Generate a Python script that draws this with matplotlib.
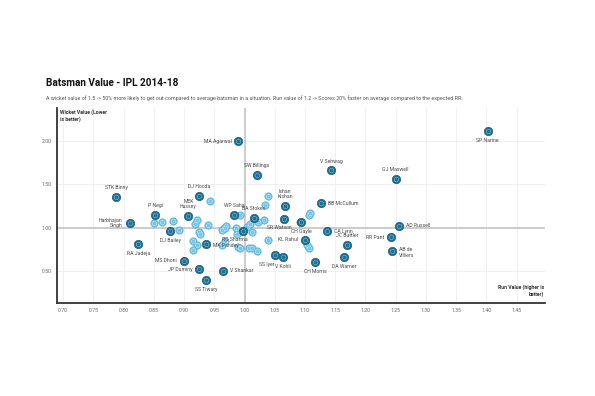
import matplotlib
matplotlib.use('Agg')
import matplotlib.pyplot as plt
import numpy as np

plt.rcParams['font.family'] = ['Roboto', 'DejaVu Sans']

# Batsmen with names (dark points)
names = ['MA Agarwal', 'STK Binny', 'DJ Hooda', 'P Negi', 'MEK\nHussey', 'Harbhajan\nSingh',
         'DJ Bailey', 'RA Jadeja', 'MK Pandey', 'MS Dhoni', 'JP Duminy', 'SS Tiwary',
         'V Shankar', 'SW Billings', 'V Sehwag', 'Ishan\nKishan', 'BB McCullum', 'WP Saha',
         'BA Stokes', 'SR Watson', 'CH Gayle', 'RG Sharma', 'KL Rahul', 'CA Lynn',
         'JC Buttler', 'SS Iyer', 'V Kohli', 'CH Morris', 'DA Warner', 'SP Narine',
         'GJ Maxwell', 'AD Russell', 'RR Pant', 'AB de\nVilliers']
run_val = [0.990, 0.788, 0.925, 0.852, 0.907, 0.810,
           0.877, 0.824, 0.936, 0.900, 0.925, 0.937,
           0.965, 1.020, 1.143, 1.067, 1.127, 0.983,
           1.015, 1.065, 1.094, 0.997, 1.100, 1.137,
           1.169, 1.050, 1.063, 1.117, 1.165, 1.402,
           1.250, 1.256, 1.242, 1.244]
wkt_val = [2.00, 1.35, 1.36, 1.15, 1.13, 1.05,
           0.96, 0.81, 0.81, 0.62, 0.52, 0.39,
           0.50, 1.61, 1.66, 1.25, 1.28, 1.15,
           1.11, 1.10, 1.06, 0.96, 0.86, 0.96,
           0.80, 0.68, 0.66, 0.60, 0.66, 2.11,
           1.56, 1.02, 0.89, 0.73]

# other batsmen (light points)
other_run = [0.943, 0.850, 0.863, 0.881, 0.891, 0.921, 0.918, 0.924, 0.927, 0.939,
             0.915, 0.921, 0.914, 0.966, 0.970, 0.963, 0.968, 0.963, 0.986, 0.987,
             0.992, 1.004, 0.989, 0.993, 1.007, 1.012, 1.039, 1.034, 1.032, 1.023,
             1.009, 1.013, 1.038, 1.021, 1.106, 1.109, 1.091, 1.104, 1.107, 0.968]
other_wkt = [1.31, 1.05, 1.06, 1.08, 0.97, 1.09, 1.04, 0.95, 0.93, 1.03,
             0.85, 0.80, 0.74, 0.99, 1.02, 0.97, 0.84, 0.80, 0.99, 0.93,
             1.14, 1.01, 0.78, 0.77, 0.77, 0.76, 1.36, 1.26, 1.09, 1.06,
             1.04, 0.95, 0.86, 0.73, 1.14, 1.17, 1.06, 0.80, 0.76, 1.00]

# label placement: (dx, dy) in points, ha, va
place = {
    'MA Agarwal': (-5, 0, 'right', 'center'),
    'Harbhajan\nSingh': (-5, 0, 'right', 'center'),
    'MK Pandey': (5, -1, 'left', 'center'),
    'MS Dhoni': (-5, 0, 'right', 'center'),
    'JP Duminy': (-5, 0, 'right', 'center'),
    'V Shankar': (5, 0, 'left', 'center'),
    'BB McCullum': (5, 0, 'left', 'center'),
    'KL Rahul': (-5, 0, 'right', 'center'),
    'CA Lynn': (5, 0, 'left', 'center'),
    'AD Russell': (5, 0, 'left', 'center'),
    'RR Pant': (-5, 0, 'right', 'center'),
    'AB de\nVilliers': (5, -1, 'left', 'center'),
    'DJ Bailey': (0, -5, 'center', 'top'),
    'RA Jadeja': (0, -5, 'center', 'top'),
    'SS Tiwary': (0, -5, 'center', 'top'),
    'SR Watson': (-3, -4, 'center', 'top'),
    'CH Gayle': (0, -5, 'center', 'top'),
    'RG Sharma': (-6, -4, 'center', 'top'),
    'SS Iyer': (-6, -5, 'center', 'top'),
    'V Kohli': (0, -5, 'center', 'top'),
    'CH Morris': (0, -5, 'center', 'top'),
    'DA Warner': (0, -5, 'center', 'top'),
    'SP Narine': (0, -5, 'center', 'top'),
}

dark = '#1f7194'
dark_edge = '#135a78'
light = '#78c5e4'
light_edge = '#58b0d6'

fig = plt.figure(figsize=(5.95, 3.96), dpi=100)
ax = fig.add_axes([0.096, 0.235, 0.82, 0.492])

ax.axvline(1.0, color='#c4c4c4', lw=1.2, zorder=1)
ax.axhline(1.0, color='#c4c4c4', lw=1.2, zorder=1)

ax.scatter(other_run, other_wkt, s=28, color=light, edgecolors=light_edge, linewidths=0.5, zorder=2)
ax.scatter(other_run, other_wkt, s=9, color=light, edgecolors='#d8eff8', linewidths=0.3, zorder=2)
ax.scatter(run_val, wkt_val, s=36, color=dark, edgecolors=dark_edge, linewidths=0.5, zorder=3)
ax.scatter(run_val, wkt_val, s=10, color=dark, edgecolors='#a9d3e4', linewidths=0.3, zorder=3)

for n, x, y in zip(names, run_val, wkt_val):
    dx, dy, ha, va = place.get(n, (0, 5, 'center', 'bottom'))
    ax.annotate(n, (x, y), xytext=(dx, dy), textcoords='offset points',
                ha=ha, va=va, fontsize=3.7, color='#4a4a4a', linespacing=1.1, zorder=4)

ax.set_xlim(0.69, 1.497)
ax.set_ylim(0.13, 2.38)
ax.set_xticks(np.arange(0.70, 1.451, 0.05))
ax.set_xticklabels(['%.2f' % t for t in np.arange(0.70, 1.451, 0.05)])
ax.set_yticks([0.5, 1.0, 1.5, 2.0])
ax.set_yticklabels(['0.50', '1.00', '1.50', '2.00'])
ax.tick_params(length=0, labelsize=3.7, labelcolor='#666666', pad=4)
ax.grid(True, color='#eeeeee', lw=0.6, zorder=0)
ax.set_axisbelow(True)

for s in ['top', 'right']:
    ax.spines[s].set_visible(False)
ax.spines['left'].set_linewidth(1.3)
ax.spines['bottom'].set_linewidth(1.3)
ax.spines['left'].set_color('#333333')
ax.spines['bottom'].set_color('#333333')

ax.text(0.006, 0.995, 'Wicket Value (Lower\nis better)', transform=ax.transAxes,
        ha='left', va='top', fontsize=3.7, fontweight='bold', color='#333333', linespacing=1.3)
ax.text(0.998, 0.03, 'Run Value (higher is\nbetter)', transform=ax.transAxes,
        ha='right', va='bottom', fontsize=3.7, fontweight='bold', color='#333333', linespacing=1.3)

fig.text(0.077, 0.782, 'Batsman Value - IPL 2014-18', fontsize=7.2, fontweight='bold', color='#111111')
fig.text(0.077, 0.748, 'A wicket value of 1.5 -> 50% more likely to get out compared to average batsman in a situation. '
         'Run value of 1.2 -> Scores 20% faster on average compared to the expected RR.',
         fontsize=3.9, color='#555555')

fig.savefig('out.png', dpi=100, facecolor='white')
